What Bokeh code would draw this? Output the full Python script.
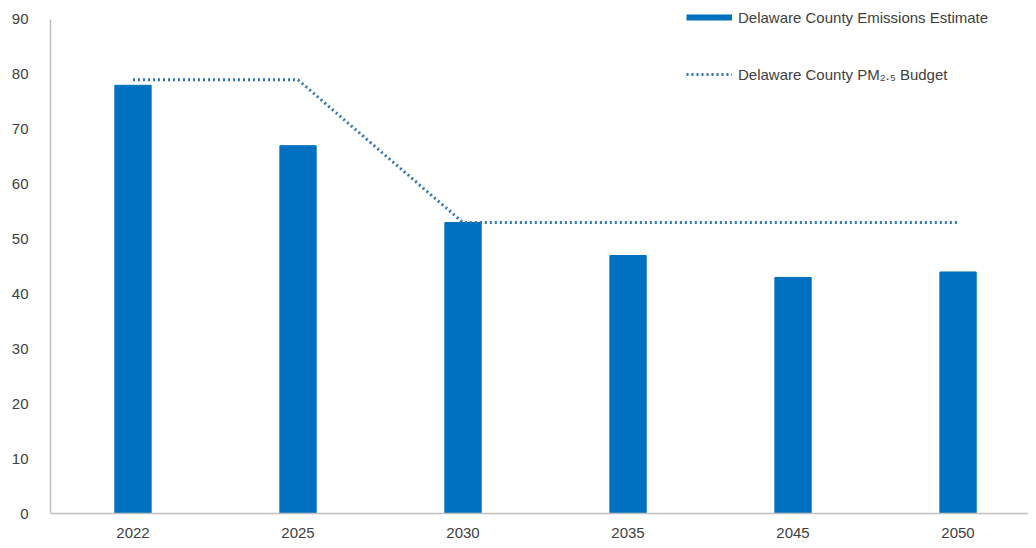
from bokeh.plotting import figure
from bokeh.models import Range1d, FixedTicker, Legend, LegendItem, ColumnDataSource
from bokeh.embed import file_html
from bokeh.resources import INLINE

years = ["2022", "2025", "2030", "2035", "2045", "2050"]
emissions = [78, 67, 53, 47, 43, 44]
budget = [79, 79, 53, 53, 53, 53]
y_ticks = [0, 10, 20, 30, 40, 50, 60, 70, 80, 90]

xpos = [i + 0.5 for i in range(len(years))]
src = ColumnDataSource(dict(x=xpos, year=years, emis=emissions, budget=budget))

p = figure(width=1028, height=540, output_backend="svg", toolbar_location=None,
           x_range=Range1d(0, 5.927), y_range=Range1d(0, 93.45),
           min_border_left=50, min_border_right=0, min_border_top=0, min_border_bottom=26)
p.outline_line_color = None
p.xgrid.visible = False
p.ygrid.visible = False

bars = p.vbar(x="x", top="emis", width=0.22, source=src, color="#0070C0")
ln = p.line(x="x", y="budget", source=src, line_color="#2E75B6", line_width=3, line_dash="2 3")
# legend-only swatch (placed outside the visible range)
swatch = p.line(x=[-2, -1], y=[-10, -10], line_color="#0070C0", line_width=6)

legend = Legend(items=[
    LegendItem(label="Delaware County Emissions Estimate", renderers=[swatch]),
    LegendItem(label="Delaware County PM₂.₅ Budget", renderers=[ln]),
], location=(636, 429))
legend.glyph_width = 46
legend.glyph_height = 20
legend.label_height = 20
legend.spacing = 37
legend.padding = 0
legend.margin = 0
legend.label_standoff = 6
legend.border_line_alpha = 0
legend.background_fill_alpha = 0
legend.label_text_font = "Liberation Sans"
legend.label_text_font_size = "15px"
legend.label_text_color = "#404040"
p.add_layout(legend)

for ax in (p.xaxis, p.yaxis):
    ax.axis_line_color = "#BFBFBF"
    ax.axis_line_width = 1.5
    ax.major_tick_line_color = None
    ax.minor_tick_line_color = None
    ax.major_label_text_font = "Liberation Sans"
    ax.major_label_text_font_size = "15px"
    ax.major_label_text_color = "#404040"

p.xaxis.ticker = FixedTicker(ticks=xpos)
p.xaxis.major_label_overrides = {x: y for x, y in zip(xpos, years)}
p.xaxis.major_label_standoff = 8
p.yaxis.ticker = FixedTicker(ticks=y_ticks)
p.yaxis.bounds = (0, 90)
p.yaxis.major_label_standoff = 16

open("out.html", "w").write(file_html(p, INLINE))
